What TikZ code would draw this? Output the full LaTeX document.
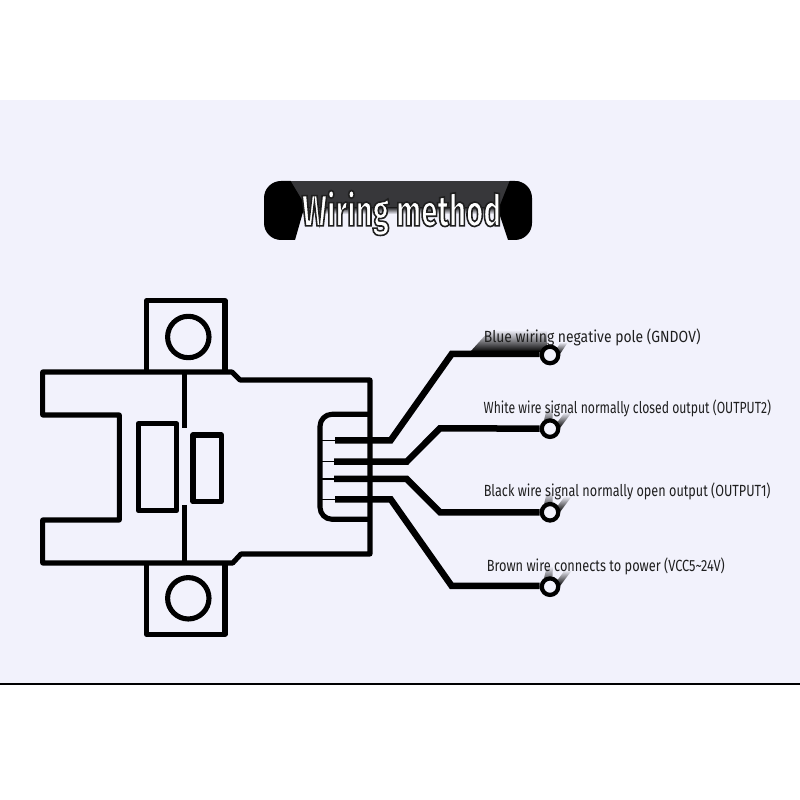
\documentclass[tikz,border=0pt]{standalone}
\usepackage{fontspec}
\usepackage{xcolor}
\setmainfont[FakeStretch=0.74]{Fira Sans}
\newfontfamily\titlefont[FakeStretch=0.68]{Fira Sans}
\definecolor{paper}{HTML}{F2F2FC}
\definecolor{bandgray}{HTML}{37373A}
\newcommand{\outlined}[1]{\special{pdf:code 2 Tr 0.45 w 0.12 0.12 0.12 RG}#1\special{pdf:code 0 Tr}}
\tikzset{
    part/.style={line width=1.45pt, line join=round},
    wire/.style={line width=1.85pt, line join=miter},
    terminal/.style={circle, draw, fill=paper, line width=1.2pt, minimum size=0.165cm, inner sep=0pt},
    wirelabel/.style={anchor=west, inner sep=0pt, transform shape, text=black!88, font=\fontsize{4.6}{5}\selectfont},
    smudge/.style={bottom color=black, middle color=black!65, top color=paper, draw=none}
}

\begin{document}
\begin{tikzpicture}
    \useasboundingbox (0,0) rectangle (8,8);
    % Page band
    \fill[paper] (0,1.16) rectangle (8,7);
    \draw[line width=0.4pt] (0,1.16) -- (8,1.16);

    % Title plate
    \begin{scope}
        \clip[rounded corners=0.17cm] (2.64,5.6) rectangle (5.32,6.19);
        \fill[bandgray] (2.8,5.9) rectangle (5.2,6.19);
        \shade[top color=bandgray, bottom color=paper] (2.8,5.86) rectangle (5.2,5.92);
        \fill[black] (2.6,6.2) -- (2.9,6.2) -- (3.05,5.95) -- (2.95,5.6) -- (2.6,5.6) -- cycle;
        \fill[black] (5.4,6.2) -- (5.1,6.2) -- (4.98,5.9) -- (5.08,5.6) -- (5.4,5.6) -- cycle;
    \end{scope}
    \node[text=white, inner sep=0pt, font=\titlefont\fontsize{12.4}{14}\selectfont\bfseries] (title) at (4.015,5.87) {\outlined{Wiring method}};

    % Lugs
    \draw[part] (1.465,4.28) -- (1.465,4.993) -- (2.25,4.993) -- (2.25,4.28);
    \draw[part] (1.465,2.37) -- (1.465,1.657) -- (2.25,1.657) -- (2.25,2.37);
    \draw[part] (1.883,4.63) circle (0.207);
    \draw[part] (1.883,2.017) circle (0.207);

    % Body
    \draw[part] (0.427,4.28) -- (2.32,4.28) -- (2.40,4.20) -- (3.70,4.20) -- (3.70,2.46) -- (2.41,2.46) -- (2.327,2.37) -- (0.427,2.37) -- (0.427,2.80) -- (1.193,2.80) -- (1.193,3.85) -- (0.427,3.85) -- cycle;
    \draw[part] (1.847,4.28) -- (1.847,3.723);
    \draw[part] (1.847,2.95) -- (1.847,2.37);
    \draw[part] (1.383,3.763) rectangle (1.767,2.893);
    \draw[part] (1.93,3.65) rectangle (2.213,2.983);

    % Connector
    \draw[part, rounded corners=0.12cm] (3.70,3.857) -- (3.20,3.857) -- (3.20,2.807) -- (3.70,2.807);

    % Pins
    \coordinate (pina) at (3.35,3.597);
    \coordinate (pinb) at (3.34,3.383);
    \coordinate (pinc) at (3.34,3.21);
    \coordinate (pind) at (3.35,3.007);
    \foreach \p in {pina,pinb,pinc,pind} {
        \draw[line width=0.4pt] (\p) -- (3.2,0 |- \p);
    }

    % Smudges behind the labels
    \shade[smudge] (4.70,4.48) -- (5.47,4.48) -- (5.47,4.70) -- (4.90,4.70) -- cycle;
    \foreach \x/\y in {5.50/3.72, 5.50/2.88, 5.50/2.14} {
        \shade[smudge] (\x-0.08,\y) -- (\x+0.02,\y) -- (\x+0.03,\y+0.2) -- (\x-0.03,\y+0.2) -- cycle;
        \shade[smudge] (\x+0.03,\y) -- (\x+0.1,\y) -- (\x+0.22,\y+0.16) -- (\x+0.15,\y+0.16) -- cycle;
    }
    \shade[smudge] (5.53,4.46) -- (5.6,4.46) -- (5.68,4.58) -- (5.61,4.58) -- cycle;

    % Terminals
    \node[terminal] (gnd) at (5.50,4.45) {};
    \node[terminal] (outb) at (5.50,3.713) {};
    \node[terminal] (outa) at (5.50,2.877) {};
    \node[terminal] (vcc) at (5.50,2.133) {};

    % Wires
    \draw[wire] (pina) -- (3.907,3.597) -- (4.517,4.46) -- (gnd.west |- 0,4.46);
    \draw[wire] (pinb) -- (4.067,3.383) -- (4.40,3.717) -- (outb);
    \draw[wire] (pinc) -- (4.067,3.21) -- (4.40,2.877) -- (outa);
    \draw[wire] (pind) -- (3.907,3.007) -- (4.517,2.14) -- (vcc.west |- 0,2.14);

    % Labels
    \node[wirelabel, xscale=1.163] (gndlabel) at (4.83,4.63) {Blue wiring negative pole (GNDOV)};
    \node[wirelabel, xscale=1.019] (outblabel) at (4.83,3.92) {White wire signal normally closed output (OUTPUT2)};
    \node[wirelabel, xscale=1.057] (outalabel) at (4.83,3.09) {Black wire signal normally open output (OUTPUT1)};
    \node[wirelabel, xscale=1.067] (vcclabel) at (4.86,2.34) {Brown wire connects to power (VCC5\textasciitilde24V)};
\end{tikzpicture}
\end{document}
